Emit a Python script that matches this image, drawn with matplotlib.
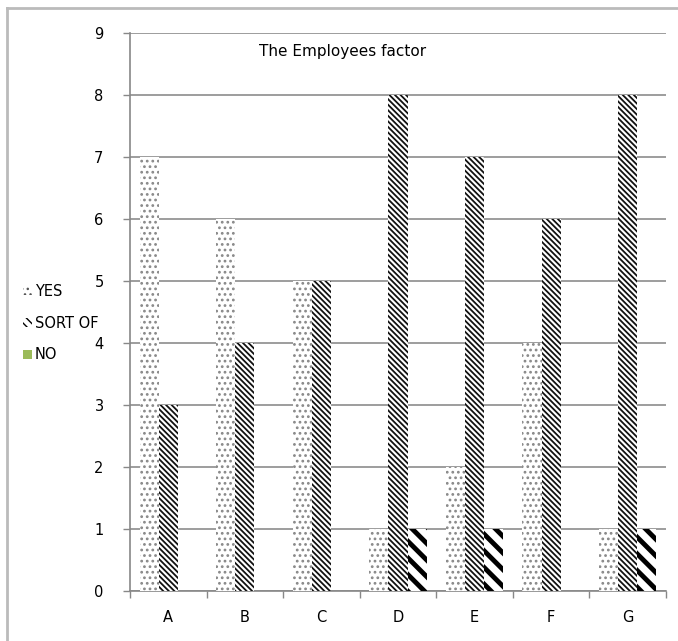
import matplotlib
matplotlib.use("Agg")
import matplotlib.pyplot as plt
from matplotlib.patches import Patch
from matplotlib.lines import Line2D
import numpy as np

plt.rcParams['font.family'] = ['DejaVu Sans']

categories = ['A', 'B', 'C', 'D', 'E', 'F', 'G']
yes = [7, 6, 5, 1, 2, 4, 1]
sort_of = [3, 4, 5, 8, 7, 6, 8]
no = [0, 0, 0, 1, 1, 0, 1]
title = 'The Employees factor'

fig = plt.figure(figsize=(6.78, 6.41), dpi=100)
ax = fig.add_axes([130/678, 1-591/641, 536/678, 558/641])

x = np.arange(len(categories))
w = 0.25

plt.rcParams['hatch.linewidth'] = 1.2
ax.bar(x - w, yes, w, facecolor='white', edgecolor='#888888', hatch='...', linewidth=0, zorder=3)
plt.rcParams['hatch.linewidth'] = 1.3
ax.bar(x, sort_of, w, facecolor='white', edgecolor='#111111', hatch='\\\\\\\\\\\\', linewidth=0, zorder=3)
plt.rcParams['hatch.linewidth'] = 3.5
ax.bar(x + w, no, w, facecolor='white', edgecolor='black', hatch='\\\\', linewidth=0, zorder=3)

ax.set_xlim(-0.5, len(categories) - 0.5)
ax.set_ylim(0, 9)
ax.set_yticks(range(10))
ax.set_xticks(x)
ax.set_xticklabels(categories)
ax.set_xticks(np.arange(-0.5, len(categories)), minor=True)
ax.tick_params(axis='x', which='major', length=0, pad=14, labelsize=10.5)
ax.tick_params(axis='x', which='minor', length=5, color='#888888', width=1)
ax.tick_params(axis='y', length=5, color='#888888', width=1, labelsize=10.5, pad=14)
ax.yaxis.grid(True, color='#8c8c8c', linewidth=1.2, zorder=0)
ax.set_axisbelow(True)
for s in ['top', 'right']:
    ax.spines[s].set_visible(False)
for s in ['left', 'bottom']:
    ax.spines[s].set_color('#888888')
    ax.spines[s].set_linewidth(1.2)

ax.text(3 - 0.72, 8.7, title, ha='center', va='center', fontsize=11)

plt.rcParams['hatch.linewidth'] = 1.0
handles = [Patch(facecolor='white', edgecolor='#555555', hatch='...', linewidth=0),
           Patch(facecolor='white', edgecolor='black', hatch='\\\\\\\\', linewidth=0),
           Patch(facecolor='#9bbb59', edgecolor='#9bbb59', linewidth=0)]
fig.legend(handles, ['YES', 'SORT OF', 'NO'], loc='center left',
           bbox_to_anchor=(0.015, 1 - 323/641), frameon=False, fontsize=10.5,
           handlelength=0.6, handleheight=0.6, handletextpad=0.2, labelspacing=1.15)

# frame lines on the image edge
fig.add_artist(Line2D([7/678, 7/678], [0, 1 - 8/641], color='#bbbbbb', linewidth=2, transform=fig.transFigure))
fig.add_artist(Line2D([7/678, 1], [1 - 8/641, 1 - 8/641], color='#bbbbbb', linewidth=2, transform=fig.transFigure))

fig.savefig('out.png', dpi=100)
